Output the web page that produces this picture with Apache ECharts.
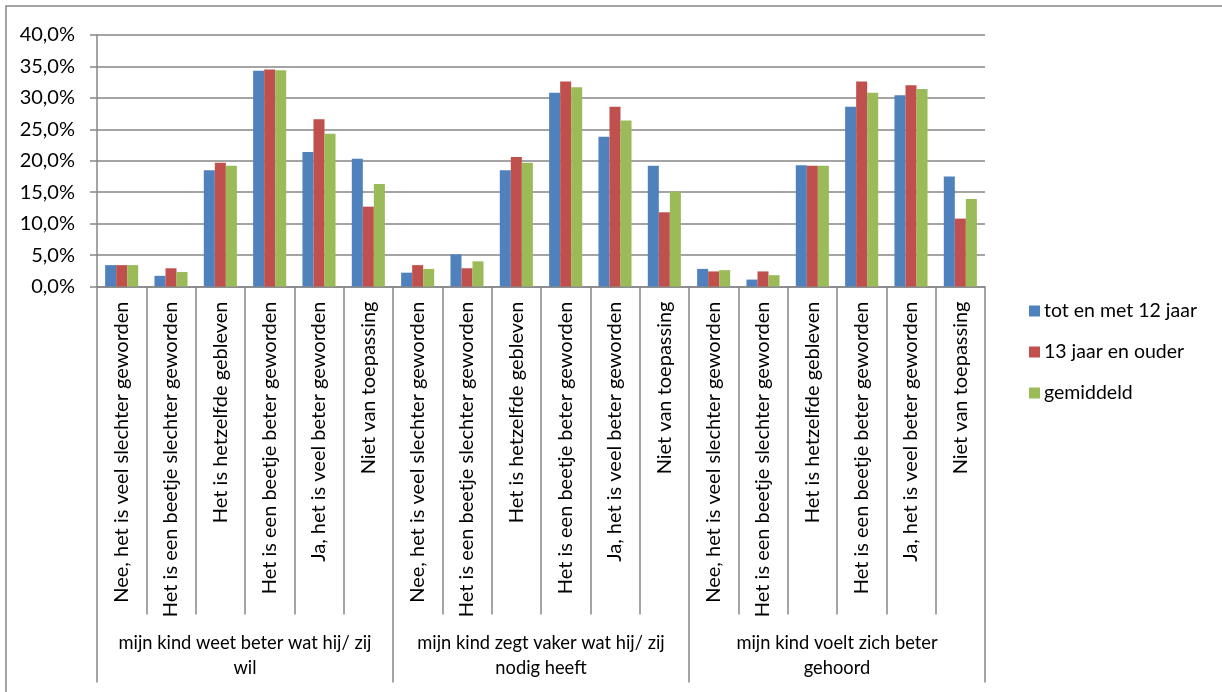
<!DOCTYPE html>
<html>
<head>
<meta charset="utf-8">
<script src="https://cdn.jsdelivr.net/npm/echarts@6/dist/echarts.min.js"></script>
<style>
html,body{margin:0;padding:0;background:#fff;}
#chart{width:1222px;height:692px;}
</style>
</head>
<body>
<div id="chart"></div>
<script>
const groups = [
  'mijn kind weet beter wat hij/ zij\nwil',
  'mijn kind zegt vaker wat hij/ zij\nnodig heeft',
  'mijn kind voelt zich beter\ngehoord'
];
const answers = [
  'Nee, het is veel slechter geworden',
  'Het is een beetje slechter geworden',
  'Het is hetzelfde gebleven',
  'Het is een beetje beter geworden',
  'Ja, het is veel beter geworden',
  'Niet van toepassing'
];
const categories = [].concat(answers, answers, answers);
const seriesNames = ['tot en met 12 jaar', '13 jaar en ouder', 'gemiddeld'];
const tot12 = [3.4, 1.7, 18.5, 34.3, 21.4, 20.3,  2.2, 5.1, 18.5, 30.8, 23.8, 19.2,  2.8, 1.1, 19.3, 28.6, 30.4, 17.5];
const vanaf13 = [3.4, 2.9, 19.7, 34.5, 26.6, 12.7,  3.4, 2.9, 20.6, 32.6, 28.6, 11.8,  2.4, 2.4, 19.2, 32.6, 32.0, 10.8];
const gemiddeld = [3.4, 2.3, 19.2, 34.4, 24.3, 16.3,  2.8, 4.0, 19.7, 31.7, 26.4, 15.1,  2.6, 1.8, 19.2, 30.8, 31.4, 13.9];
const yTicks = {min: 0, max: 40, interval: 5};
const colors = ['#4F81BD', '#C0504D', '#9BBB59'];

const FONT = 'Lato';
const gray = '#868686';
const chart = echarts.init(document.getElementById('chart'), null, {renderer: 'canvas'});
const seriesData = [tot12, vanaf13, gemiddeld];
chart.setOption({
  animation: false,
  color: colors,
  textStyle: {fontFamily: FONT, color: '#000'},
  graphic: [{
    type: 'rect', silent: true, z: -1,
    shape: {x: 6, y: 6, width: 1240, height: 720},
    style: {fill: 'none', stroke: gray, lineWidth: 1.5}
  }],
  grid: {left: 97, right: 237, top: 35, bottom: 405.5, containLabel: false},
  legend: {
    orient: 'vertical', left: 1024, top: 296,
    itemWidth: 11, itemHeight: 11, itemGap: 21,
    icon: 'rect',
    textStyle: {fontFamily: FONT, fontSize: 19.5, lineHeight: 20, color: '#000', padding: [0,0,0,-1]},
    data: seriesNames
  },
  xAxis: [{
    type: 'category', data: categories, position: 'bottom',
    axisLine: {lineStyle: {color: gray, width: 1.5}},
    axisTick: {show: true, interval: 0, length: 328, lineStyle: {color: gray, width: 1.5}},
    axisLabel: {interval: 0, rotate: 90, margin: 15, fontFamily: FONT, fontSize: 20, color: '#000'},
    splitLine: {show: false}
  }, {
    type: 'category', data: groups, position: 'bottom',
    axisLine: {show: false},
    axisTick: {show: true, interval: 0, length: 396, lineStyle: {color: gray, width: 1.5}},
    axisLabel: {interval: 0, margin: 344, fontFamily: FONT, fontSize: 18.3, lineHeight: 25, color: '#000', align: 'center'},
    splitLine: {show: false}
  }],
  yAxis: {
    type: 'value', min: yTicks.min, max: yTicks.max, interval: yTicks.interval,
    axisLine: {show: true, lineStyle: {color: gray, width: 1.5}},
    axisTick: {show: true, length: 7, lineStyle: {color: gray, width: 1.5}},
    axisLabel: {margin: 22, fontFamily: FONT, fontSize: 20, color: '#000',
      formatter: v => v.toFixed(1).replace('.', ',') + '%'},
    splitLine: {show: true, lineStyle: {color: gray, width: 1.5}}
  },
  series: seriesNames.map((n, i) => ({
    type: 'bar', name: n, data: seriesData[i], xAxisIndex: 0,
    barGap: '0%', barCategoryGap: '33%'
  }))
});
</script>
</body>
</html>
